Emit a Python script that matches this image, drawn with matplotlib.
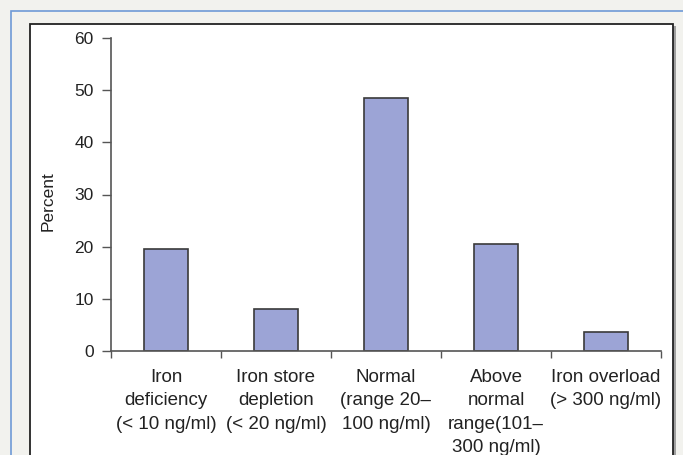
import matplotlib
matplotlib.use("Agg")
import matplotlib.pyplot as plt
from matplotlib.patches import Rectangle

categories = ["Iron\ndeficiency\n(< 10 ng/ml)",
              "Iron store\ndepletion\n(< 20 ng/ml)",
              "Normal\n(range 20\u2013\n100 ng/ml)",
              "Above\nnormal\nrange(101\u2013\n300 ng/ml)",
              "Iron overload\n(> 300 ng/ml)"]
percent = [19.5, 8.0, 48.5, 20.6, 3.6]
yticks = [0, 10, 20, 30, 40, 50, 60]

plt.rcParams['font.family'] = ['Liberation Sans', 'DejaVu Sans']

W, H = 683, 455
fig = plt.figure(figsize=(W/100, H/100), dpi=100)
fig.patch.set_facecolor('#f2f2ee')

def px(x0, y0, w, h, **kw):
    return Rectangle((x0/W, 1 - (y0 + h)/H), w/W, h/H, transform=fig.transFigure, zorder=-5, **kw)

fig.patches.append(px(11, 11, 700, 500, facecolor='#f2f2ee', edgecolor='#6f9ad6', linewidth=1.2))
fig.patches.append(px(673, 26, 3, 480, facecolor='#a0a0a0', edgecolor='none'))
fig.patches.append(px(30, 24, 643, 480, facecolor='white', edgecolor='#222222', linewidth=1.3))

ax = fig.add_axes([111/W, 1 - 351/H, 550/W, 313/H])
ax.set_zorder(10)
ax.set_facecolor('none')
x = list(range(len(categories)))
ax.bar([i + 0.5 for i in x], percent, width=0.4, color='#9ca4d6', edgecolor='#3a3a3a', linewidth=1.2)
ax.set_xlim(0, len(categories))
ax.set_ylim(0, 60)
ax.set_yticks(yticks)
ax.tick_params(axis='y', labelsize=12.5, length=6.5, width=1, color='#555555', pad=6, labelcolor='#222222')
ax.set_xticks(range(len(categories) + 1))
ax.set_xticklabels([])
ax.set_xticks([i + 0.5 for i in x], minor=True)
ax.set_xticklabels(categories, minor=True, fontsize=13.5, linespacing=1.48, color='#222222', va='top')
ax.tick_params(axis='x', which='major', length=5, width=1, color='#555555')
ax.tick_params(axis='x', which='minor', length=0, pad=13)
for s in ['top', 'right']:
    ax.spines[s].set_visible(False)
for s in ['left', 'bottom']:
    ax.spines[s].set_color('#555555')
    ax.spines[s].set_linewidth(1.2)
ax.set_ylabel('Percent', fontsize=12.5, color='#222222')
ax.yaxis.set_label_coords(-0.1, 0.48)

fig.savefig('out.png', dpi=100, facecolor=fig.get_facecolor())
